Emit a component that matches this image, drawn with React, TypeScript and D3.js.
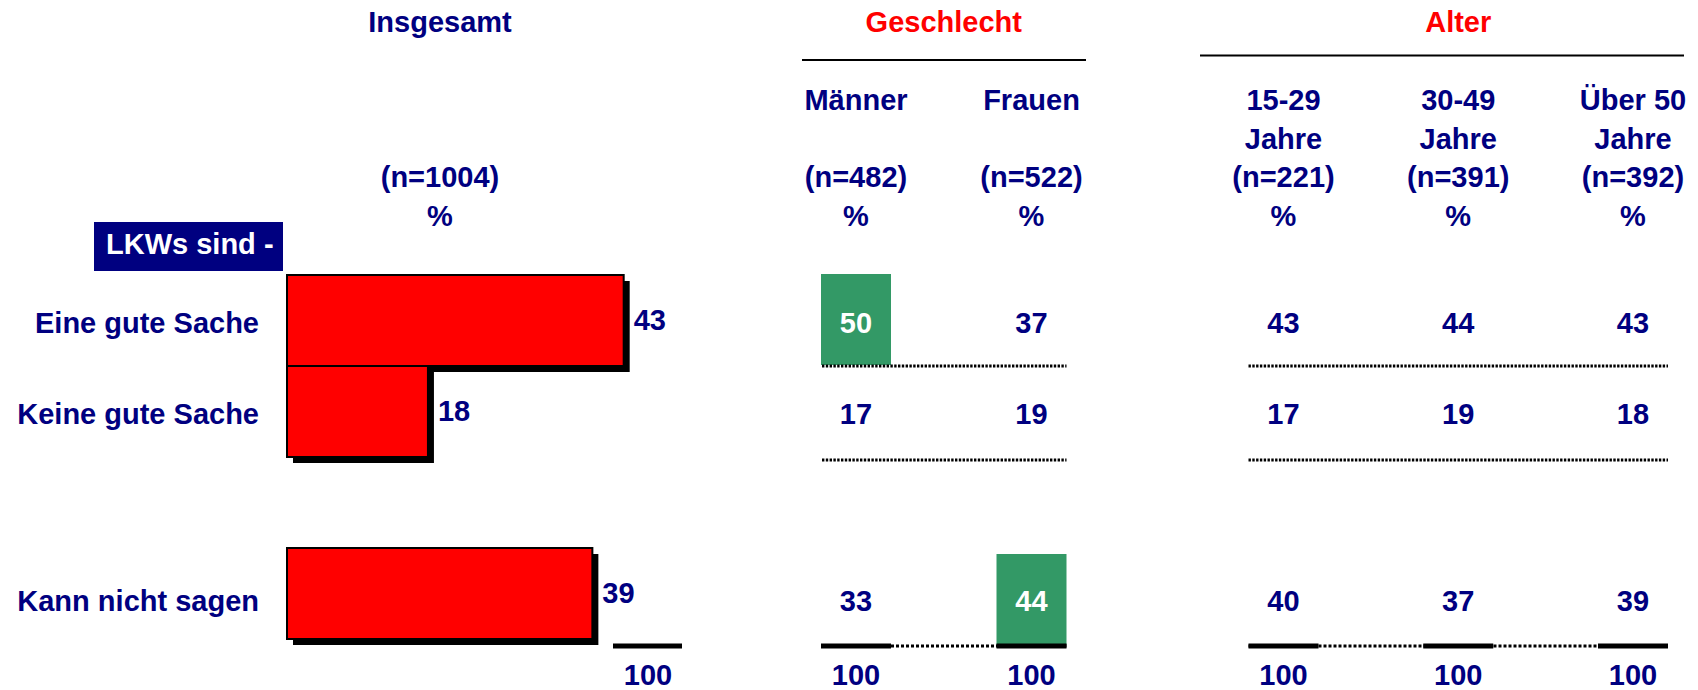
import React from "react";
import * as d3 from "d3";

// ---------- data ----------
const rowLabels = ["Eine gute Sache", "Keine gute Sache", "Kann nicht sagen"];
const totalValues = [43, 18, 39];
const totalHeader = ["(n=1004)", "%"];
const genderGroups = ["Männer", "Frauen"];
const genderN = ["(n=482)", "(n=522)"];
const ageGroups = ["15-29", "30-49", "Über 50"];
const ageSub = ["Jahre", "Jahre", "Jahre"];
const ageN = ["(n=221)", "(n=391)", "(n=392)"];
const maenner = [50, 17, 33];
const frauen = [37, 19, 44];
const age1529 = [43, 17, 40];
const age3049 = [44, 19, 37];
const ageUeber50 = [43, 18, 39];
const columnSum = "100";
const highlightCells = [
  { col: "Männer", row: 0 },
  { col: "Frauen", row: 2 },
];
const titles = ["Insgesamt", "Geschlecht", "Alter"];
const boxLabel = "LKWs sind -";

// ---------- style ----------
const NAVY = "#000080";
const RED = "#FF0000";
const GREEN = "#339966";
const FONT = "'Liberation Sans', Arial, Helvetica, sans-serif";
const FS = 29;

export default function App() {
  const W = 1698;
  const H = 690;

  const x = d3.scaleLinear().domain([0, 100]).range([287, 1070]);
  const y = d3
    .scaleBand<string>()
    .domain(["r0", "r1", "gap", "r2"])
    .range([275, 639])
    .paddingInner(0);
  const rowKey = (i: number) => ["r0", "r1", "r2"][i];
  const bw = y.bandwidth();

  const xg = d3.scalePoint<string>().domain(genderGroups).range([856, 1031.5]);
  const xa = d3.scalePoint<string>().domain(ageGroups).range([1283.5, 1633]);
  const colW = 70;

  const columns = [
    { key: "Männer", cx: xg("Männer")!, head: ["Männer", "", genderN[0], "%"], vals: maenner },
    { key: "Frauen", cx: xg("Frauen")!, head: ["Frauen", "", genderN[1], "%"], vals: frauen },
    { key: "15-29", cx: xa("15-29")!, head: [ageGroups[0], ageSub[0], ageN[0], "%"], vals: age1529 },
    { key: "30-49", cx: xa("30-49")!, head: [ageGroups[1], ageSub[1], ageN[1], "%"], vals: age3049 },
    { key: "Über 50", cx: xa("Über 50")!, head: [ageGroups[2], ageSub[2], ageN[2], "%"], vals: ageUeber50 },
  ];

  const headBase = [110, 149, 187, 226];
  const insgesamtX = 440;

  // row separator lines (bottom of each row)
  const lineY = [y("r0")! + bw, y("r1")! + bw + 3, y("r2")! + bw + 7];
  const valueY = [y("r0")! + bw / 2 + 2, y("r1")! + bw / 2 + 2, y("r2")! + bw / 2 + 7];

  const genderSpan = [xg("Männer")! - colW / 2, xg("Frauen")! + colW / 2];
  const ageSpan = [xa("15-29")! - colW / 2, xa("Über 50")! + colW / 2];

  const textProps = {
    fontFamily: FONT,
    fontWeight: 700 as const,
    fontSize: FS,
  };
  const base = (c: number) => c + FS * 0.355;

  return (
    <svg
      width={W}
      height={H}
      viewBox={`0 0 ${W} ${H}`}
      style={{ position: "absolute", left: 0, top: 0, background: "#fff" }}
    >
      <rect x={0} y={0} width={W} height={H} fill="#fff" />

      {/* titles */}
      <text x={insgesamtX} y={32} textAnchor="middle" fill={NAVY} {...textProps}>
        {titles[0]}
      </text>
      <text x={(genderSpan[0] + genderSpan[1]) / 2 - 0} y={32} textAnchor="middle" fill={RED} {...textProps}>
        {titles[1]}
      </text>
      <text x={(xa("30-49")!)} y={32} textAnchor="middle" fill={RED} {...textProps}>
        {titles[2]}
      </text>
      <line x1={802} x2={1086} y1={60} y2={60} stroke="#000" strokeWidth={2} />
      <line x1={1200} x2={1684} y1={55.5} y2={55.5} stroke="#000" strokeWidth={2} />

      {/* Insgesamt header */}
      {totalHeader.map((t, i) => (
        <text key={t} x={insgesamtX} y={headBase[2 + i]} textAnchor="middle" fill={NAVY} {...textProps}>
          {t}
        </text>
      ))}

      {/* column headers */}
      {columns.map((c) =>
        c.head.map((t, i) =>
          t ? (
            <text key={c.key + i} x={c.cx} y={headBase[i]} textAnchor="middle" fill={NAVY} {...textProps}>
              {t}
            </text>
          ) : null
        )
      )}

      {/* LKWs sind box */}
      <rect x={94} y={222} width={189} height={49} fill={NAVY} />
      <text x={106} y={254} fill="#fff" {...textProps}>
        {boxLabel}
      </text>

      {/* row labels */}
      {rowLabels.map((r, i) => (
        <text
          key={r}
          x={259}
          y={base(i === 2 ? valueY[i] : valueY[i])}
          textAnchor="end"
          fill={NAVY}
          {...textProps}
        >
          {r}
        </text>
      ))}

      {/* total bars */}
      {totalValues.map((v, i) => {
        const yy = y(rowKey(i))!;
        return (
          <g key={"bar" + i}>
            <rect x={x(0) + 6} y={yy + 6} width={x(v) - x(0)} height={bw} fill="#000" />
            <rect x={x(0)} y={yy} width={x(v) - x(0)} height={bw} fill={RED} stroke="#000" strokeWidth={2} />
            <text x={x(v) + 10} y={base(yy + bw / 2 - 1)} fill={NAVY} {...textProps}>
              {v}
            </text>
          </g>
        );
      })}

      {/* 100 marker under Insgesamt */}
      <line x1={613} x2={682} y1={lineY[2]} y2={lineY[2]} stroke="#000" strokeWidth={5} />
      <text x={648} y={base(675)} textAnchor="middle" fill={NAVY} {...textProps}>
        {columnSum}
      </text>

      {/* green highlight cells */}
      {highlightCells.map((h) => {
        const c = columns.find((cc) => cc.key === h.col)!;
        return (
          <rect
            key={"hl" + h.col}
            x={c.cx - colW / 2}
            y={lineY[h.row] - bw - 1}
            width={colW}
            height={bw}
            fill={GREEN}
          />
        );
      })}

      {/* dotted row separators */}
      {[0, 1].map((i) => (
        <g key={"sep" + i}>
          <line
            x1={genderSpan[0] + 1}
            x2={genderSpan[1]}
            y1={lineY[i]}
            y2={lineY[i]}
            stroke="#000"
            strokeWidth={3}
            strokeDasharray="2.4 1.4"
          />
          <line
            x1={ageSpan[0]}
            x2={ageSpan[1]}
            y1={lineY[i]}
            y2={lineY[i]}
            stroke="#000"
            strokeWidth={3}
            strokeDasharray="2.4 1.4"
          />
        </g>
      ))}

      {/* bottom line: dotted between, solid under each column */}
      {[genderSpan, ageSpan].map((s, i) => (
        <line
          key={"bot" + i}
          x1={s[0]}
          x2={s[1]}
          y1={lineY[2]}
          y2={lineY[2]}
          stroke="#000"
          strokeWidth={3}
          strokeDasharray="3 2"
        />
      ))}
      {columns.map((c) => (
        <line
          key={"solid" + c.key}
          x1={c.cx - colW / 2}
          x2={c.cx + colW / 2}
          y1={lineY[2]}
          y2={lineY[2]}
          stroke="#000"
          strokeWidth={5}
        />
      ))}

      {/* table values */}
      {columns.map((c) =>
        c.vals.map((v, i) => {
          const hl = highlightCells.some((h) => h.col === c.key && h.row === i);
          return (
            <text
              key={c.key + "v" + i}
              x={c.cx}
              y={base(valueY[i])}
              textAnchor="middle"
              fill={hl ? "#fff" : NAVY}
              {...textProps}
            >
              {v}
            </text>
          );
        })
      )}
      {columns.map((c) => (
        <text key={c.key + "sum"} x={c.cx} y={base(675)} textAnchor="middle" fill={NAVY} {...textProps}>
          {columnSum}
        </text>
      ))}
    </svg>
  );
}
